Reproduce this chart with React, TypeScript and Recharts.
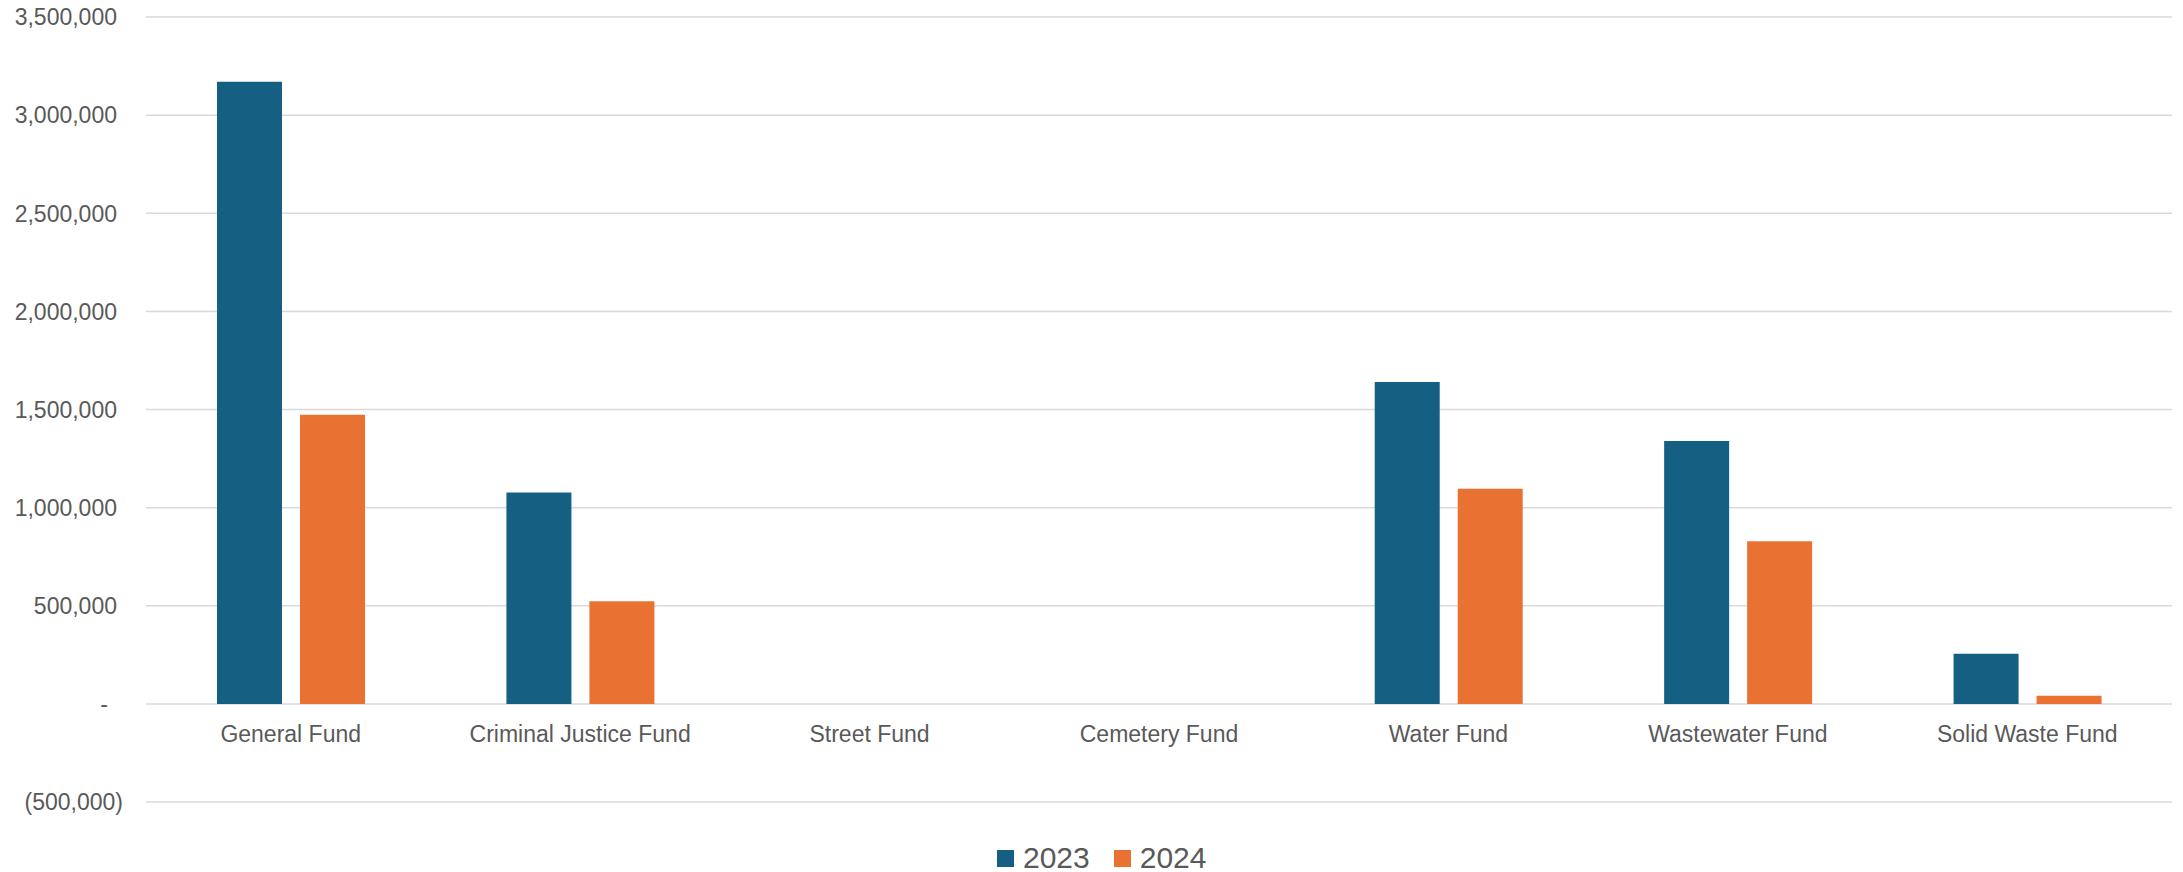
import React from 'react';
import { BarChart, Bar, XAxis, YAxis, CartesianGrid, Legend } from 'recharts';

const categories = [
  'General Fund',
  'Criminal Justice Fund',
  'Street Fund',
  'Cemetery Fund',
  'Water Fund',
  'Wastewater Fund',
  'Solid Waste Fund',
];
const values2023 = [3170000, 1077000, 0, 0, 1640000, 1339000, 255000];
const values2024 = [1473000, 523000, 0, 0, 1096000, 829000, 42000];
const seriesNames = ['2023', '2024'];
const seriesColors = ['#156082', '#E97132'];
const yTicks = [-500000, 0, 500000, 1000000, 1500000, 2000000, 2500000, 3000000, 3500000];
const yDomain: [number, number] = [-500000, 3500000];

const data = categories.map((c, i) => ({
  name: c,
  v2023: values2023[i],
  v2024: values2024[i],
}));

const W = 2183;
const H = 872;
const MARGIN = { top: 17, right: 11, left: 0, bottom: 0 };
const X_AXIS_H = 70;
const Y_AXIS_W = 146;
const FONT = '"Liberation Sans", Arial, sans-serif';
const TEXT = '#595959';

const plotTop = MARGIN.top;
const plotHeight = H - MARGIN.top - MARGIN.bottom - X_AXIS_H;
const zeroY = plotTop + plotHeight * (yDomain[1] / (yDomain[1] - yDomain[0]));

const fmt = (v: number) => Math.abs(v).toLocaleString('en-US');

const YTick = (props: any) => {
  const { y, payload } = props;
  const v = payload.value as number;
  let label = fmt(v);
  let x = 117;
  if (v === 0) {
    label = '-';
    x = 108;
  } else if (v < 0) {
    label = '(' + fmt(v) + ')';
    x = 123;
  }
  return (
    <text x={x} y={y} dy="0.36em" textAnchor="end" fill={TEXT} fontSize={23} fontFamily={FONT}>
      {label}
    </text>
  );
};

const XTick = (props: any) => {
  const { x, payload } = props;
  return (
    <text x={x} y={zeroY + 30} dy="0.36em" textAnchor="middle" fill={TEXT} fontSize={23} fontFamily={FONT}>
      {payload.value}
    </text>
  );
};

const LegendContent = () => (
  <div style={{ display: 'flex', alignItems: 'center', fontFamily: FONT, fontSize: 30, color: TEXT, lineHeight: 1 }}>
    {seriesNames.map((n, i) => (
      <div key={n} style={{ display: 'flex', alignItems: 'center', marginRight: i === 0 ? 24 : 0 }}>
        <span style={{ display: 'inline-block', width: 17, height: 17, background: seriesColors[i], marginRight: 9 }} />
        <span>{n}</span>
      </div>
    ))}
  </div>
);

export default function App() {
  return (
    <div style={{ position: 'absolute', left: 0, top: 0, width: W, height: H, background: '#fff' }}>
      <BarChart
        width={W}
        height={H}
        data={data}
        margin={MARGIN}
        barCategoryGap={71}
        barGap={18}
      >
        <CartesianGrid vertical={false} stroke="#d9d9d9" strokeWidth={1.5} />
        <XAxis
          dataKey="name"
          height={X_AXIS_H}
          axisLine={false}
          tickLine={false}
          interval={0}
          tick={<XTick />}
        />
        <YAxis
          width={Y_AXIS_W}
          domain={yDomain}
          ticks={yTicks}
          interval={0}
          axisLine={false}
          tickLine={false}
          tick={<YTick />}
        />
        <Legend
          layout="horizontal"
          verticalAlign="middle"
          align="center"
          content={<LegendContent />}
          wrapperStyle={{ position: 'absolute', left: 997, top: 843, width: 'auto' }}
        />
        <Bar dataKey="v2023" name={seriesNames[0]} fill={seriesColors[0]} isAnimationActive={false} />
        <Bar dataKey="v2024" name={seriesNames[1]} fill={seriesColors[1]} isAnimationActive={false} />
      </BarChart>
    </div>
  );
}
